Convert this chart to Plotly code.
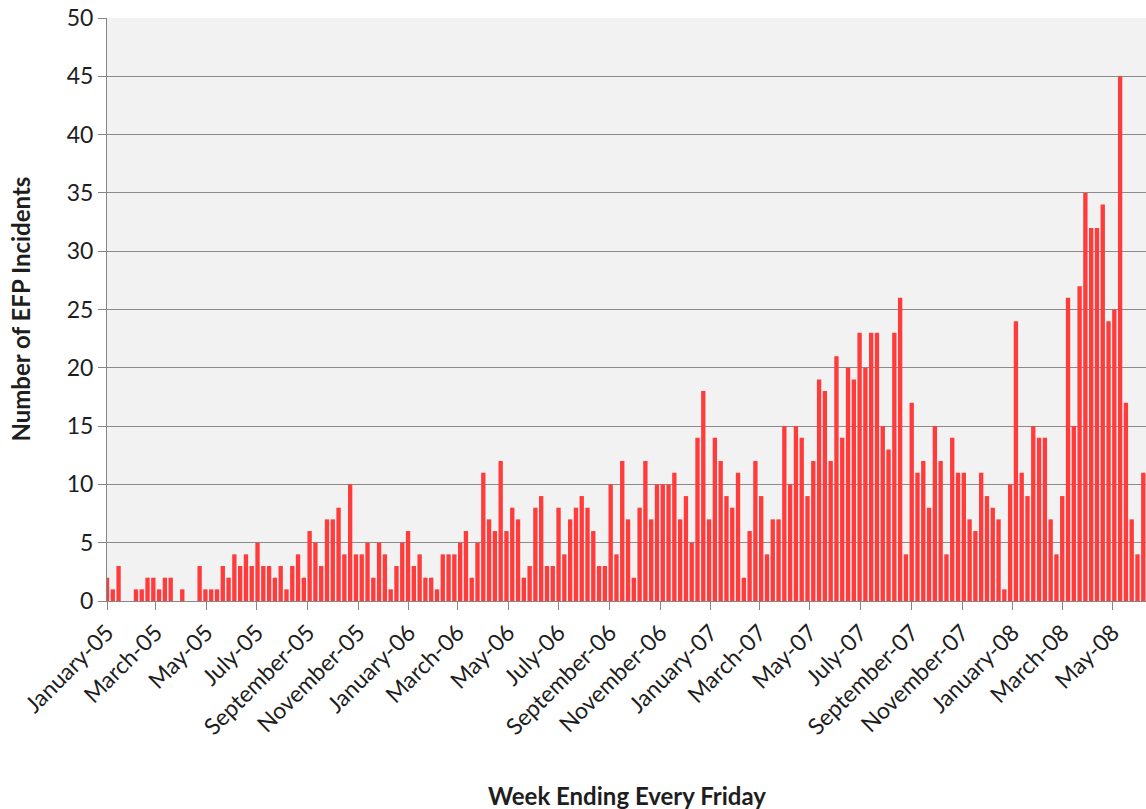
import pandas as pd
import plotly.graph_objects as go

# Week-ending Fridays (categories of the bar series)
week_ending = pd.date_range("2005-01-07", periods=180, freq="7D")

incidents = [
    2, 1, 3, 0, 0, 1, 1, 2, 2, 1,
    2, 2, 0, 1, 0, 0, 3, 1, 1, 1,
    3, 2, 4, 3, 4, 3, 5, 3, 3, 2,
    3, 1, 3, 4, 2, 6, 5, 3, 7, 7,
    8, 4, 10, 4, 4, 5, 2, 5, 4, 1,
    3, 5, 6, 3, 4, 2, 2, 1, 4, 4,
    4, 5, 6, 2, 5, 11, 7, 6, 12, 6,
    8, 7, 2, 3, 8, 9, 3, 3, 8, 4,
    7, 8, 9, 8, 6, 3, 3, 10, 4, 12,
    7, 2, 8, 12, 7, 10, 10, 10, 11, 7,
    9, 5, 14, 18, 7, 14, 12, 9, 8, 11,
    2, 6, 12, 9, 4, 7, 7, 15, 10, 15,
    14, 9, 12, 19, 18, 12, 21, 14, 20, 19,
    23, 20, 23, 23, 15, 13, 23, 26, 4, 17,
    11, 12, 8, 15, 12, 4, 14, 11, 11, 7,
    6, 11, 9, 8, 7, 1, 10, 24, 11, 9,
    15, 14, 14, 7, 4, 9, 26, 15, 27, 35,
    32, 32, 34, 24, 25, 45, 17, 7, 4, 11,
]

tick_dates = [
    "2005-01-07", "2005-03-07", "2005-05-07", "2005-07-07", "2005-09-07", "2005-11-07",
    "2006-01-07", "2006-03-07", "2006-05-07", "2006-07-07", "2006-09-07", "2006-11-07",
    "2007-01-07", "2007-03-07", "2007-05-07", "2007-07-07", "2007-09-07", "2007-11-07",
    "2008-01-07", "2008-03-07", "2008-05-07",
]
tick_labels = [
    "January-05", "March-05", "May-05", "July-05", "September-05", "November-05",
    "January-06", "March-06", "May-06", "July-06", "September-06", "November-06",
    "January-07", "March-07", "May-07", "July-07", "September-07", "November-07",
    "January-08", "March-08", "May-08",
]
y_ticks = [0, 5, 10, 15, 20, 25, 30, 35, 40, 45, 50]

FONT = "Lato, 'Open Sans', sans-serif"
TXT = "#1E1E1E"

fig = go.Figure(
    go.Bar(
        x=week_ending,
        y=incidents,
        marker=dict(color="#FF3B3B", line=dict(width=0)),
    )
)

fig.update_layout(
    width=1146,
    height=809,
    margin=dict(l=107, r=0, t=18, b=208),
    paper_bgcolor="white",
    plot_bgcolor="#F2F2F2",
    bargap=0.25,
    showlegend=False,
    font=dict(family=FONT, color=TXT),
)

fig.update_xaxes(
    type="date",
    range=["2005-01-07", "2008-06-16 07:00"],
    tickvals=tick_dates,
    ticktext=tick_labels,
    tickangle=-45,
    tickfont=dict(size=23, family=FONT, color=TXT),
    ticks="outside",
    ticklen=8,
    tickcolor="#868686",
    showline=True,
    linecolor="#868686",
    linewidth=1,
    showgrid=False,
    zeroline=False,
)

fig.update_yaxes(
    range=[0, 50],
    tickvals=y_ticks,
    tickfont=dict(size=23, family=FONT, color=TXT),
    ticks="outside",
    ticklen=8,
    tickcolor="#868686",
    showline=True,
    linecolor="#868686",
    linewidth=1,
    showgrid=True,
    gridcolor="#8A8A8A",
    gridwidth=1,
    zeroline=False,
)

fig.add_annotation(
    text="<b>Number of EFP Incidents</b>",
    xref="paper", yref="paper",
    x=-0.0837, y=0.5,
    xanchor="center", yanchor="middle",
    textangle=-90,
    showarrow=False,
    font=dict(size=24, family=FONT, color=TXT),
)
fig.add_annotation(
    text="<b>Week Ending Every Friday</b>",
    xref="paper", yref="paper",
    x=0.5, y=-0.333,
    xanchor="center", yanchor="middle",
    showarrow=False,
    font=dict(size=24, family=FONT, color=TXT),
)

fig.write_html(
    "out.html",
    config={"displayModeBar": False},
    post_script="document.body.style.margin='0';document.body.style.overflow='hidden';",
)
